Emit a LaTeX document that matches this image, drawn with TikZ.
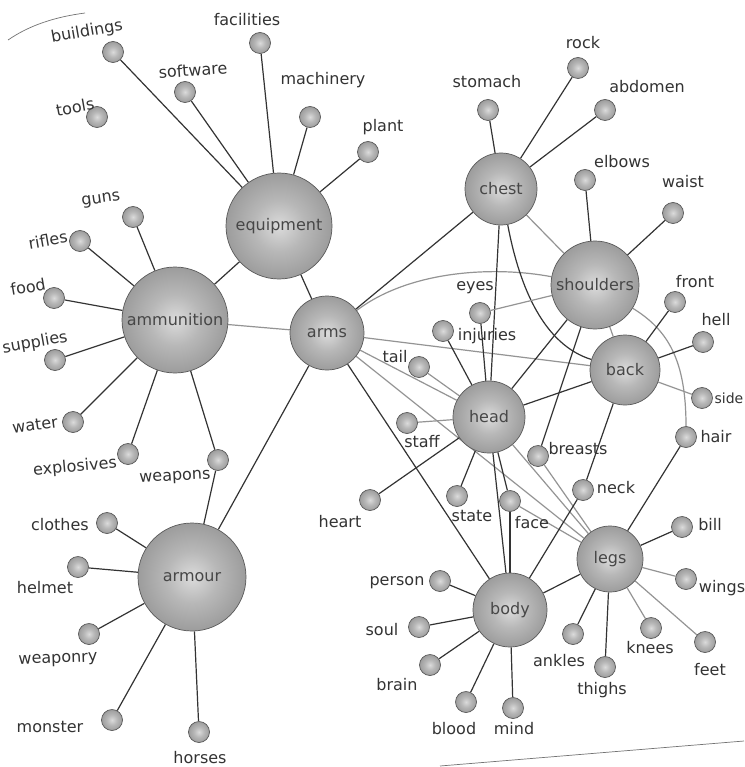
\documentclass[tikz,border=0pt]{standalone}
\usepackage{fontspec}
\setmainfont{DejaVu Sans}
\pgfdeclareradialshading{sph}{\pgfpoint{0bp}{0bp}}{color(0bp)=(black!14); color(12bp)=(black!28); color(34bp)=(black!46); color(50bp)=(black!60)}
\pgfdeclarelayer{bg}
\pgfsetlayers{bg,main}
\tikzset{
  big/.style={circle, shading=sph, draw=black!65, line width=0.7pt, inner sep=0pt,
    font=\fontsize{16}{18}\selectfont, text=black!72},
  ball/.style={circle, shading=sph, draw=black!65, line width=0.7pt, minimum size=21pt, inner sep=0pt},
  lbl/.style={font=\fontsize{16}{18}\selectfont, text=black!80, inner sep=0pt},
  dk/.style={draw=black!80, line width=1.2pt},
  lt/.style={draw=black!42, line width=1.2pt},
  edge/.style={draw=black!55, line width=0.7pt}
}
\begin{document}
\begin{tikzpicture}[x=1pt,y=1pt]
\useasboundingbox (0,0) rectangle (744,-767);
% big nodes
\node[big, minimum size=106pt] (equipment) at (279,-226) {equipment};
\node[big, minimum size=106pt] (ammunition) at (175,-320) {ammunition};
\node[big, minimum size=74pt] (arms) at (327,-333) {arms};
\node[big, minimum size=108pt] (armour) at (192,-577) {armour};
\node[big, minimum size=72pt] (chest) at (501,-189) {chest};
\node[big, minimum size=88pt] (shoulders) at (595,-285) {shoulders};
\node[big, minimum size=70pt] (back) at (625,-370) {back};
\node[big, minimum size=72pt] (head) at (489,-417) {head};
\node[big, minimum size=66pt] (legs) at (610,-559) {legs};
\node[big, minimum size=74pt] (body) at (510,-610) {body};
% small balls
\foreach \n/\x/\y in {buildings/113/52, facilities/260/43, software/185/92, tools/97/117,
  machinery/310/117, plant/368/152, guns/133/217, rifles/80/241, food/54/298,
  supplies/55/360, water/73/422, explosives/128/454, weapons/218/460,
  clothes/107/523, helmet/78/567, weaponry/89/634, monster/112/720, horses/199/732,
  stomach/488/110, rock/578/68, abdomen/605/110, elbows/585/180, waist/673/213,
  front/675/302, hell/703/342, side/702/398, hair/686/437, eyes/480/313,
  injuries/443/331, tail/419/367, staff/407/423, heart/370/500, state/457/496,
  face/510/501, breasts/538/456, neck/583/490, bill/682/527, wings/686/579,
  feet/705/642, knees/651/628, thighs/605/667, ankles/573/634, person/440/581,
  soul/419/627, brain/430/665, blood/466/702, mind/513/708}
  \node[ball] (\n) at (\x,-\y) {};
% labels
\foreach \n/\x/\y/\r in {buildings/87/32/10, facilities/247/20/0, software/193/70/4,
  tools/75/107/10, machinery/323/80/0, plant/383/127/0, guns/101/200/8,
  rifles/48/240/10, food/28/287/10, supplies/35/343/10, water/35/425/8,
  explosives/75/467/5, weapons/175/478/3, clothes/60/525/0, helmet/45/588/0,
  weaponry/58/660/2, monster/50/727/0, horses/200/758/0, stomach/487/82/0,
  rock/583/43/0, abdomen/647/87/0, elbows/622/162/0, waist/683/182/0,
  front/695/282/0, hell/716/320/0, hair/716/437/0, eyes/475/288/0,
  injuries/487/336/0, tail/395/357/0, staff/422/442/0, heart/340/522/0,
  state/472/516/0, face/532/523/0, breasts/578/449/0, neck/616/488/0,
  bill/710/525/0, wings/722/588/0, feet/710/670/0, knees/650/648/0,
  thighs/602/690/0, ankles/559/661/0, person/397/583/0, soul/382/630/0,
  brain/397/685/0, blood/454/729/0, mind/514/729/0}
  \node[lbl, rotate=\r] (t-\n) at (\x,-\y) {\n};
\node[lbl, font=\fontsize{14}{16}\selectfont] (t-side) at (729,-398) {side};
\begin{pgfonlayer}{bg}
\fill[white] (0,0) rectangle (744,-767);
% page edges
\coordinate (pa) at (8,-40);
\coordinate (pb) at (85,-13);
\coordinate (pc) at (440,-766);
\coordinate (pd) at (744,-741);
\draw[edge] (pa) .. controls (30,-25) and (55,-17) .. (pb);
\draw[edge] (pc) -- (pd);
% equipment
\foreach \m in {buildings, software, facilities, machinery, plant, ammunition, arms}
  \draw[dk] (equipment) -- (\m);
% ammunition
\foreach \m in {guns, rifles, food, supplies, water, explosives, weapons}
  \draw[dk] (ammunition) -- (\m);
\draw[lt] (ammunition) -- (arms);
% armour
\foreach \m in {clothes, helmet, weaponry, monster, horses, weapons, arms}
  \draw[dk] (armour) -- (\m);
% arms
\draw[dk] (arms) -- (chest);
\draw[lt] (arms) .. controls (410,-270) and (495,-266) .. (shoulders);
\draw[lt] (arms) -- (back);
\draw[lt] (arms) -- (head);
\draw[lt] (arms) -- (legs);
\draw[dk] (arms) -- (body);
% chest
\foreach \m in {stomach, rock, abdomen, head}
  \draw[dk] (chest) -- (\m);
\draw[lt] (chest) -- (shoulders);
\draw[dk] (chest) .. controls (520,-290) and (545,-345) .. (back);
% shoulders
\foreach \m in {elbows, waist, head, breasts}
  \draw[dk] (shoulders) -- (\m);
\draw[lt] (shoulders) -- (eyes);
\draw[lt] (shoulders) -- (back);
\draw[lt] (shoulders) .. controls (668,-330) and (686,-360) .. (hair);
% back
\foreach \m in {front, hell, head, neck}
  \draw[dk] (back) -- (\m);
\draw[lt] (back) -- (side);
% head
\foreach \m in {eyes, injuries, heart, state, face, body}
  \draw[dk] (head) -- (\m);
\draw[lt] (head) -- (tail);
\draw[lt] (head) -- (staff);
\draw[lt] (head) -- (legs);
% legs
\draw[lt] (breasts) -- (legs);
\draw[lt] (face) -- (legs);
\draw[dk] (hair) -- (legs);
\foreach \m in {bill, thighs, ankles, body}
  \draw[dk] (legs) -- (\m);
\foreach \m in {wings, feet, knees}
  \draw[lt] (legs) -- (\m);
% body
\foreach \m in {person, soul, brain, blood, mind, face, neck}
  \draw[dk] (body) -- (\m);
\end{pgfonlayer}
\end{tikzpicture}
\end{document}
